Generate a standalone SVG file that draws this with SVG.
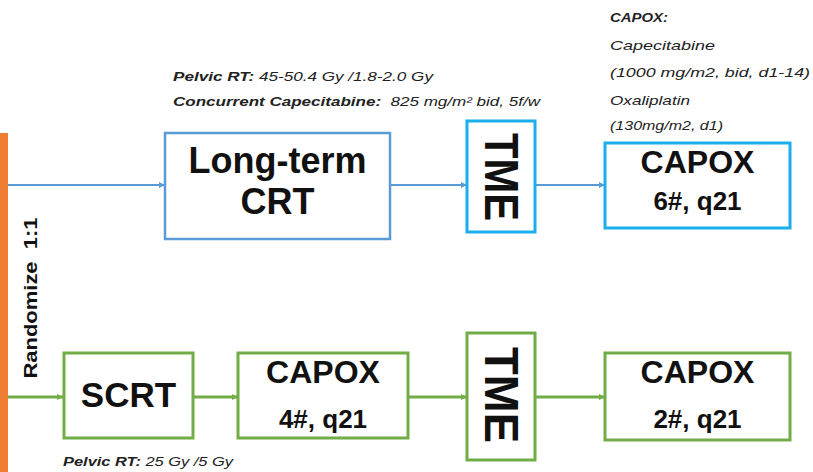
<svg xmlns="http://www.w3.org/2000/svg" width="813" height="472" viewBox="0 0 813 472">
<style>
.t{font-family:"Liberation Sans",Arial,sans-serif;font-weight:bold;fill:#111;text-anchor:middle}
.a{font-family:"Liberation Sans",Arial,sans-serif;font-style:italic;font-size:13px;fill:#222}
.b{font-weight:bold}
.p{white-space:pre}
.bl{fill:#fff;stroke:#5B9BD5;stroke-width:2.5}
.cy{fill:#fff;stroke:#1AAEEB;stroke-width:3}
.gr{fill:#fff;stroke:#70AD47;stroke-width:3}
.lb{stroke:#5B9BD5;stroke-width:2;fill:none}
.lg{stroke:#70AD47;stroke-width:3;fill:none}
</style>
<defs>
<marker id="mb" markerWidth="6" markerHeight="6" refX="6" refY="3" orient="auto" markerUnits="userSpaceOnUse"><path d="M0,0L6,3L0,6z" fill="#5B9BD5"/></marker>
<marker id="mg" markerWidth="6" markerHeight="6" refX="6" refY="3" orient="auto" markerUnits="userSpaceOnUse"><path d="M0,0L6,3L0,6z" fill="#70AD47"/></marker>
</defs>
<rect x="0" y="133" width="8" height="339" fill="#ED7D31"/>
<text class="t p" transform="translate(37,298) rotate(-90)" font-size="18" textLength="161" lengthAdjust="spacingAndGlyphs">Randomize  1:1</text>
<g id="connectors">
<line class="lb" x1="8" y1="185" x2="165" y2="185" marker-end="url(#mb)"/>
<line class="lb" x1="390" y1="185" x2="467" y2="185" marker-end="url(#mb)"/>
<line class="lb" x1="535" y1="185" x2="605" y2="185" marker-end="url(#mb)"/>
<line class="lg" x1="8" y1="397" x2="63" y2="397" marker-end="url(#mg)"/>
<line class="lg" x1="193" y1="397" x2="238" y2="397" marker-end="url(#mg)"/>
<line class="lg" x1="408" y1="397" x2="467" y2="397" marker-end="url(#mg)"/>
<line class="lg" x1="535" y1="397" x2="605" y2="397" marker-end="url(#mg)"/>
</g>
<g id="longterm">
<rect class="bl" x="165" y="133" width="225" height="106"/>
<text class="t" x="277.5" y="173" font-size="36">Long-term</text>
<text class="t" x="277.5" y="214" font-size="36">CRT</text>
</g>
<g id="tme1">
<rect class="cy" x="467" y="121" width="68" height="111"/>
<text class="t" transform="translate(485,177) rotate(90)" font-size="48" textLength="88" lengthAdjust="spacingAndGlyphs">TME</text>
</g>
<g id="capox1">
<rect class="cy" x="605" y="143" width="185" height="85"/>
<text class="t" x="697.5" y="173" font-size="32">CAPOX</text>
<text class="t" x="697.5" y="210" font-size="26">6#, q21</text>
</g>
<g id="scrt">
<rect class="gr" x="64" y="353" width="129" height="85"/>
<text class="t" x="128.5" y="407" font-size="35">SCRT</text>
</g>
<g id="capox2">
<rect class="gr" x="238" y="353" width="170" height="85"/>
<text class="t" x="323" y="383" font-size="32">CAPOX</text>
<text class="t" x="323" y="428" font-size="26">4#, q21</text>
</g>
<g id="tme2">
<rect class="gr" x="467" y="333" width="68" height="127"/>
<text class="t" transform="translate(485,395) rotate(90)" font-size="48" textLength="96" lengthAdjust="spacingAndGlyphs">TME</text>
</g>
<g id="capox3">
<rect class="gr" x="605" y="353" width="185" height="87"/>
<text class="t" x="697.5" y="383" font-size="32">CAPOX</text>
<text class="t" x="697.5" y="428" font-size="26">2#, q21</text>
</g>
<g id="notes">
<text class="a" x="173" y="81" textLength="260" lengthAdjust="spacingAndGlyphs"><tspan class="b">Pelvic RT:</tspan> 45-50.4 Gy /1.8-2.0 Gy</text>
<text class="a p" x="173" y="106" textLength="367" lengthAdjust="spacingAndGlyphs"><tspan class="b">Concurrent Capecitabine:</tspan>  825 mg/m² bid, 5f/w</text>
<text class="a" x="610" y="22" textLength="58" lengthAdjust="spacingAndGlyphs"><tspan class="b">CAPOX:</tspan></text>
<text class="a" x="610" y="50" textLength="105" lengthAdjust="spacingAndGlyphs">Capecitabine</text>
<text class="a" x="610" y="77" textLength="200" lengthAdjust="spacingAndGlyphs">(1000 mg/m2, bid, d1-14)</text>
<text class="a" x="610" y="105" textLength="80" lengthAdjust="spacingAndGlyphs">Oxaliplatin</text>
<text class="a" x="610" y="130" textLength="113" lengthAdjust="spacingAndGlyphs">(130mg/m2, d1)</text>
<text class="a" x="63" y="466" textLength="170" lengthAdjust="spacingAndGlyphs"><tspan class="b">Pelvic RT:</tspan> 25 Gy /5 Gy</text>
</g>
</svg>
